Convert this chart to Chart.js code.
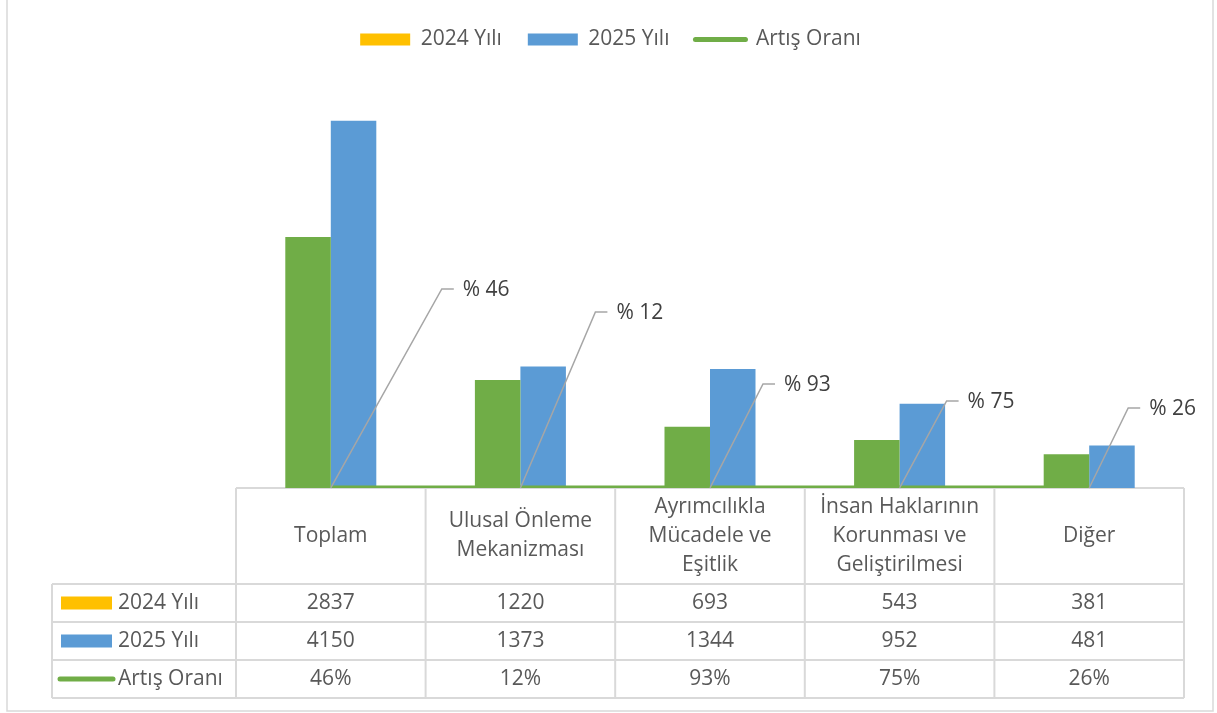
<!DOCTYPE html>
<html lang="tr">
<head>
<meta charset="utf-8">
<title>2024 - 2025 Başvuru Sayıları</title>
<script src="https://cdn.jsdelivr.net/npm/chart.js@4.4.1/dist/chart.umd.min.js"></script>
<style>
  html, body { margin: 0; padding: 0; background: #fff; }
  #wrap { width: 1217px; height: 713px; }
</style>
</head>
<body>
<div id="wrap"><canvas id="chart" width="1217" height="713"></canvas></div>
<script>
const categories = [
  'Toplam',
  ['Ulusal Önleme', 'Mekanizması'],
  ['Ayrımcılıkla', 'Mücadele ve', 'Eşitlik'],
  ['İnsan Haklarının', 'Korunması ve', 'Geliştirilmesi'],
  'Diğer'
];
const seriesNames = ['2024 Yılı', '2025 Yılı', 'Artış Oranı'];
const values2024 = [2837, 1220, 693, 543, 381];
const values2025 = [4150, 1373, 1344, 952, 481];
const increaseRates = [0.46, 0.12, 0.93, 0.75, 0.26];

const GREEN = '#70AD47';
const BLUE = '#5B9BD5';
const YELLOW = '#FFC000';
const TEXT = '#595959';
const GRID = '#D9D9D9';
const FONT = "'Open Sans', 'Noto Sans', sans-serif";

const pct = v => Math.round(v * 100);

// the legend key colours (2024 key is yellow in the original, bars are green)
const keyStyles = [
  { type: 'rect', color: YELLOW },
  { type: 'rect', color: BLUE },
  { type: 'line', color: GREEN }
];

// gray frame around the whole chart
const frame = {
  id: 'frame',
  beforeDraw(chart) {
    const ctx = chart.ctx;
    ctx.save();
    ctx.fillStyle = '#fff';
    ctx.fillRect(0, 0, chart.width, chart.height);
    ctx.strokeStyle = GRID;
    ctx.lineWidth = 1.5;
    ctx.strokeRect(7, -5, 1206, 716);
    ctx.restore();
  }
};

// data table under the plot
const dataTable = {
  id: 'dataTable',
  beforeDatasetsDraw(chart, args, opts) {
    const { ctx, chartArea } = chart;
    const x = chart.scales.x;
    const n = chart.data.labels.length;
    const half = (x.getPixelForValue(1) - x.getPixelForValue(0)) / 2;
    const edges = [];
    for (let i = 0; i < n; i++) edges.push(x.getPixelForValue(i) - half);
    edges.push(x.getPixelForValue(n - 1) + half);

    const top = chartArea.bottom;
    const headBottom = top + opts.headerHeight;
    const rowH = opts.rowHeight;
    const nRows = chart.data.datasets.length;
    const bottom = headBottom + rowH * nRows;
    const left = opts.left;
    const right = edges[n];

    ctx.save();
    ctx.strokeStyle = GRID;
    ctx.lineWidth = 2;
    ctx.beginPath();
    ctx.moveTo(edges[0], top);
    ctx.lineTo(right, top);
    for (let r = 0; r <= nRows; r++) {
      ctx.moveTo(left, headBottom + r * rowH);
      ctx.lineTo(right, headBottom + r * rowH);
    }
    edges.forEach(e => {
      ctx.moveTo(e, top);
      ctx.lineTo(e, bottom);
    });
    ctx.moveTo(left, headBottom);
    ctx.lineTo(left, bottom);
    ctx.stroke();

    ctx.fillStyle = TEXT;
    ctx.font = `21px ${FONT}`;
    ctx.textAlign = 'center';
    ctx.textBaseline = 'middle';

    // header with category names
    const headMid = (top + headBottom) / 2;
    chart.data.labels.forEach((lab, i) => {
      const lines = Array.isArray(lab) ? lab : [lab];
      const cx = x.getPixelForValue(i);
      lines.forEach((t, k) => {
        ctx.fillText(t, cx, headMid + (k - (lines.length - 1) / 2) * opts.lineHeight);
      });
    });

    // one row per series
    chart.data.datasets.forEach((ds, r) => {
      const mid = headBottom + r * rowH + rowH / 2;
      const key = keyStyles[r];
      if (key.type === 'rect') {
        ctx.fillStyle = key.color;
        ctx.fillRect(left + 9, mid - 6.5, 51, 13);
      } else {
        ctx.strokeStyle = key.color;
        ctx.lineWidth = 5;
        ctx.lineCap = 'round';
        ctx.beginPath();
        ctx.moveTo(left + 8, mid);
        ctx.lineTo(left + 61, mid);
        ctx.stroke();
      }
      ctx.fillStyle = TEXT;
      ctx.textAlign = 'left';
      ctx.fillText(ds.label, left + 66, mid);
      ctx.textAlign = 'center';
      ds.data.forEach((v, i) => {
        const txt = ds.type === 'line' ? pct(v) + '%' : String(v);
        ctx.fillText(txt, x.getPixelForValue(i), mid);
      });
    });
    ctx.restore();
  }
};

// "% 46" style labels with leader lines for the rate series
const rateLabels = {
  id: 'rateLabels',
  afterDatasetsDraw(chart, args, opts) {
    const ds = chart.data.datasets[2];
    const meta = chart.getDatasetMeta(2);
    const ctx = chart.ctx;
    ctx.save();
    ctx.font = `21px ${FONT}`;
    ctx.fillStyle = '#404040';
    ctx.textBaseline = 'middle';
    ctx.textAlign = 'left';
    ctx.strokeStyle = '#A6A6A6';
    ctx.lineWidth = 1.5;
    meta.data.forEach((pt, i) => {
      const [dx, dy] = opts.offsets[i];
      const bx = pt.x + dx;
      const by = pt.y + dy;
      ctx.beginPath();
      ctx.moveTo(pt.x, pt.y);
      ctx.lineTo(bx, by);
      ctx.lineTo(bx + 12, by);
      ctx.stroke();
      ctx.fillText('% ' + pct(ds.data[i]), bx + 21, by + 1);
    });
    ctx.restore();
  }
};

new Chart(document.getElementById('chart'), {
  type: 'bar',
  data: {
    labels: categories,
    datasets: [
      {
        label: seriesNames[0],
        data: values2024,
        backgroundColor: GREEN,
        order: 2,
        categoryPercentage: 0.48,
        barPercentage: 1
      },
      {
        label: seriesNames[1],
        data: values2025,
        backgroundColor: BLUE,
        order: 2,
        categoryPercentage: 0.48,
        barPercentage: 1
      },
      {
        type: 'line',
        label: seriesNames[2],
        data: increaseRates,
        borderColor: GREEN,
        backgroundColor: GREEN,
        borderWidth: 5,
        pointRadius: 0,
        tension: 0,
        order: 1
      }
    ]
  },
  options: {
    responsive: false,
    animation: false,
    devicePixelRatio: 1,
    layout: { padding: { left: 4, right: 0, top: 3, bottom: 225 } },
    plugins: {
      tooltip: { enabled: false },
      legend: {
        position: 'top',
        labels: {
          font: { family: FONT, size: 21 },
          color: TEXT,
          padding: 26,
          usePointStyle: true,
          pointStyleWidth: 50,
          boxHeight: 12,
          generateLabels: chart => chart.data.datasets.map((ds, i) => ({
            text: ds.label,
            datasetIndex: i,
            hidden: false,
            fontColor: TEXT,
            fillStyle: keyStyles[i].color,
            strokeStyle: keyStyles[i].color,
            lineWidth: keyStyles[i].type === 'line' ? 5 : 0,
            lineCap: 'round',
            pointStyle: keyStyles[i].type === 'line' ? 'line' : 'rect'
          }))
        }
      },
      dataTable: { left: 52, headerHeight: 96, rowHeight: 38, lineHeight: 29 },
      rateLabels: {
        offsets: [[111, -199], [75, -176], [53, -104], [47, -87], [39, -80]]
      }
    },
    scales: {
      x: {
        offset: true,
        grid: { display: false },
        border: { display: false },
        ticks: { display: false },
        afterFit: s => { s.height = 0; }
      },
      y: {
        position: 'left',
        min: 0,
        max: 4838,
        grid: { display: false },
        border: { display: false },
        ticks: { display: false },
        afterFit: s => { s.width = 232; }
      },
      yRight: {
        position: 'right',
        min: 0,
        max: 1,
        grid: { display: false },
        border: { display: false },
        ticks: { display: false },
        afterFit: s => { s.width = 33; }
      }
    }
  },
  plugins: [frame, dataTable, rateLabels]
});
</script>
</body>
</html>
